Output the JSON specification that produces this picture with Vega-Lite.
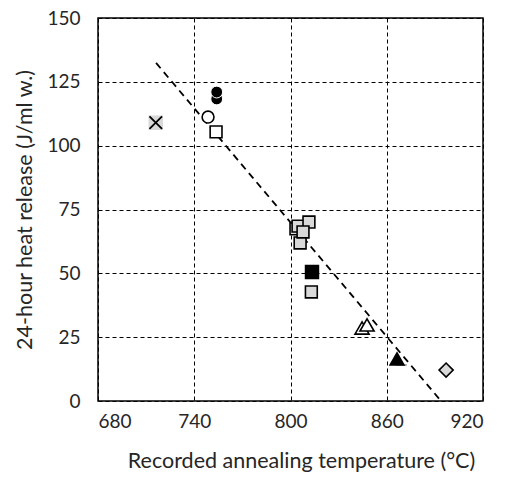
{
  "$schema": "https://vega.github.io/schema/vega-lite/v6.json",
  "autosize": "none",
  "width": 385,
  "height": 383,
  "padding": {"left": 98, "top": 18, "right": 23, "bottom": 78},
  "background": "white",
  "config": {
    "font": "Lato",
    "view": {"stroke": "black", "strokeWidth": 1.5},
    "axis": {
      "labelFont": "Lato",
      "titleFont": "Lato",
      "labelFontSize": 19,
      "titleFontSize": 21.5,
      "titleFontWeight": "normal",
      "labelColor": "#262626",
      "titleColor": "#262626",
      "ticks": false,
      "domain": false,
      "grid": true,
      "gridColor": "black",
      "gridDash": [4, 3],
      "gridWidth": 1,
      "gridOpacity": 1
    }
  },
  "datasets": {
    "points": [
      {"temp": 716, "heat": 109, "group": "cross"},
      {"temp": 754, "heat": 118.3, "group": "blackCircle"},
      {"temp": 754, "heat": 121, "group": "blackCircle"},
      {"temp": 748.6, "heat": 111.2, "group": "openCircle"},
      {"temp": 753.6, "heat": 105.4, "group": "openSquare"},
      {"temp": 806, "heat": 61.9, "group": "graySquare"},
      {"temp": 803.4, "heat": 67.4, "group": "graySquare"},
      {"temp": 804.7, "heat": 68.5, "group": "graySquare"},
      {"temp": 811.5, "heat": 70.1, "group": "graySquare"},
      {"temp": 807.8, "heat": 66.2, "group": "graySquare"},
      {"temp": 813, "heat": 42.7, "group": "graySquare"},
      {"temp": 813.4, "heat": 50.5, "group": "blackSquare"},
      {"temp": 844.6, "heat": 28.6, "group": "openTriangle"},
      {"temp": 847.7, "heat": 29.8, "group": "openTriangle"},
      {"temp": 869, "heat": 14.1, "group": "grayDash"},
      {"temp": 866.4, "heat": 16.5, "group": "blackTriangle"},
      {"temp": 897, "heat": 12.1, "group": "grayDiamond"}
    ],
    "fit": [
      {"temp": 716.2, "heat": 132.4},
      {"temp": 893.8, "heat": 0}
    ]
  },
  "encoding": {
    "x": {
      "field": "temp",
      "type": "quantitative",
      "scale": {"domain": [680, 920], "nice": false, "zero": false},
      "axis": {
        "values": [680, 740, 800, 860, 920],
        "labelPadding": 11,
        "titlePadding": 19,
        "titleX": 203,
        "title": "Recorded annealing temperature (°C)"
      }
    },
    "y": {
      "field": "heat",
      "type": "quantitative",
      "scale": {"domain": [0, 150], "nice": false},
      "axis": {
        "values": [0, 25, 50, 75, 100, 125, 150],
        "labelPadding": 18,
        "titlePadding": 10,
        "title": "24-hour heat release (J/ml w.)"
      }
    }
  },
  "layer": [
    {
      "data": {"name": "fit"},
      "mark": {"type": "line", "color": "black", "strokeWidth": 1.8, "strokeDash": [7, 5]},
      "encoding": {}
    },
    {
      "data": {"name": "points"},
      "transform": [{"filter": "datum.group === 'cross'"}],
      "mark": {"type": "point", "shape": "square", "filled": true, "fill": "#d9d9d9", "stroke": null, "size": 210, "opacity": 1},
      "encoding": {}
    },
    {
      "data": {"name": "points"},
      "transform": [{"filter": "datum.group === 'blackCircle'"}],
      "mark": {"type": "point", "shape": "circle", "fill": "black", "filled": true, "stroke": "white", "strokeWidth": 1, "size": 140, "opacity": 1},
      "encoding": {}
    },
    {
      "data": {"name": "points"},
      "transform": [{"filter": "datum.group !== 'blackCircle'"}],
      "mark": {"type": "point", "opacity": 1},
      "encoding": {
        "shape": {
          "field": "group",
          "type": "nominal",
          "legend": null,
          "scale": {
            "domain": ["cross", "openCircle", "openSquare", "graySquare", "blackSquare", "openTriangle", "grayDash", "blackTriangle", "grayDiamond"],
            "range": ["M-0.42,-0.42L0.42,0.42M0.42,-0.42L-0.42,0.42", "circle", "square", "square", "square", "triangle-up", "M-1,0L1,0", "triangle-up", "diamond"]
          }
        },
        "fill": {
          "field": "group",
          "type": "nominal",
          "legend": null,
          "scale": {
            "domain": ["cross", "openCircle", "openSquare", "graySquare", "blackSquare", "openTriangle", "grayDash", "blackTriangle", "grayDiamond"],
            "range": ["transparent", "white", "white", "#d9d9d9", "black", "white", "transparent", "black", "#d9d9d9"]
          }
        },
        "stroke": {
          "field": "group",
          "type": "nominal",
          "legend": null,
          "scale": {
            "domain": ["cross", "openCircle", "openSquare", "graySquare", "blackSquare", "openTriangle", "grayDash", "blackTriangle", "grayDiamond"],
            "range": ["black", "black", "black", "black", "black", "black", "#a0a0a0", "black", "black"]
          }
        },
        "strokeWidth": {
          "field": "group",
          "type": "nominal",
          "legend": null,
          "scale": {
            "type": "ordinal",
            "domain": ["cross", "openCircle", "openSquare", "graySquare", "blackSquare", "openTriangle", "grayDash", "blackTriangle", "grayDiamond"],
            "range": [1.8, 1.6, 1.6, 1.6, 1.6, 1.6, 2, 1.6, 1.6]
          }
        },
        "size": {
          "field": "group",
          "type": "nominal",
          "legend": null,
          "scale": {
            "type": "ordinal",
            "domain": ["cross", "openCircle", "openSquare", "graySquare", "blackSquare", "openTriangle", "grayDash", "blackTriangle", "grayDiamond"],
            "range": [900, 140, 140, 140, 165, 200, 120, 190, 200]
          }
        }
      }
    }
  ]
}
